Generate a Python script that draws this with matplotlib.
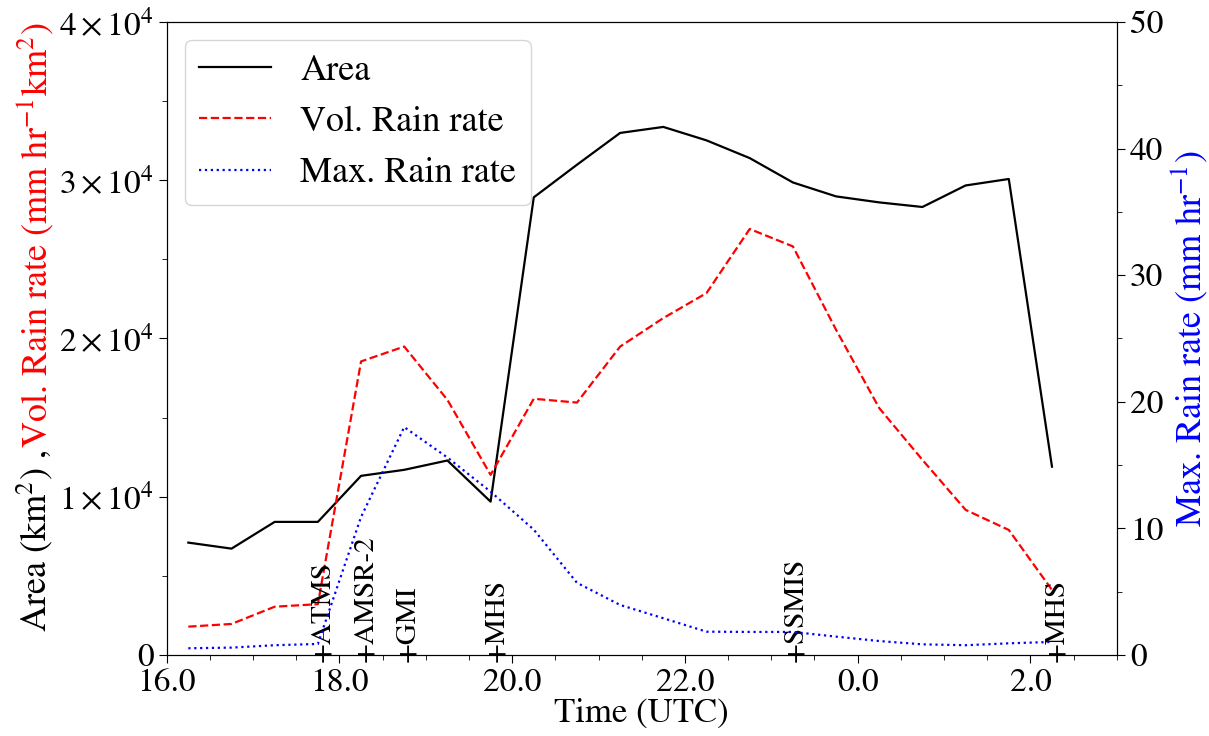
import matplotlib
matplotlib.use("Agg")
import matplotlib.pyplot as plt
from matplotlib.ticker import MultipleLocator, FuncFormatter

plt.rcParams["font.family"] = "STIXGeneral"
plt.rcParams["mathtext.fontset"] = "stix"
plt.rcParams["font.size"] = 24

# time of each sample (hours UTC, continuing past midnight)
time_h = [16.25, 16.75, 17.25, 17.75, 18.25, 18.75, 19.25, 19.75, 20.25, 20.75,
          21.25, 21.75, 22.25, 22.75, 23.25, 23.75, 24.25, 24.75, 25.25, 25.75, 26.25]
area = [7100, 6720, 8410, 8410, 11320, 11700, 12290, 9690, 28920, 30980,
        32990, 33370, 32520, 31400, 29860, 28980, 28600, 28310, 29670, 30080, 11900]
vol_rain = [1790, 1960, 3050, 3210, 18550, 19490, 16120, 11380, 16190, 15950,
            19490, 21290, 22870, 26920, 25820, 20550, 15600, 12330, 9170, 7900, 4110]
max_rain = [0.53, 0.58, 0.77, 0.87, 10.9, 18.0, 15.6, 12.9, 9.9, 5.7,
            3.95, 2.9, 1.84, 1.82, 1.82, 1.45, 1.1, 0.84, 0.77, 0.92, 1.03]

# satellite overpasses
sensors = ["ATMS", "AMSR-2", "GMI", "MHS", "SSMIS", "MHS"]
sensor_time = [17.80, 18.30, 18.79, 19.82, 23.28, 26.30]

fig = plt.figure(figsize=(12.09, 7.36), dpi=100)
ax = fig.add_axes([0.1379, 0.1101, 0.9237 - 0.1379, 0.9701 - 0.1101])
ax2 = ax.twinx()

l1, = ax.plot(time_h, area, "k-", lw=1.6, label="Area")
l2, = ax.plot(time_h, vol_rain, "r--", lw=1.6, label="Vol. Rain rate")
l3, = ax2.plot(time_h, max_rain, "b:", lw=1.6, label="Max. Rain rate")

ax.set_xlim(16, 27)
ax.set_ylim(0, 40000)
ax2.set_ylim(0, 50)

ax.xaxis.set_major_locator(MultipleLocator(2))
ax.xaxis.set_minor_locator(MultipleLocator(0.5))
ax.xaxis.set_major_formatter(FuncFormatter(lambda v, p: f"{v % 24:.1f}"))
ax.yaxis.set_major_locator(MultipleLocator(10000))
ax.yaxis.set_minor_locator(MultipleLocator(5000))


def sci(v, p):
    if v == 0:
        return "0"
    return r"$%d\times10^{4}$" % round(v / 1e4)


ax.yaxis.set_major_formatter(FuncFormatter(sci))
ax2.yaxis.set_major_locator(MultipleLocator(10))
ax2.yaxis.set_minor_locator(MultipleLocator(5))

for a in (ax, ax2):
    a.tick_params(which="major", length=6, labelsize=24)
    a.tick_params(which="minor", length=3.6)

ax.set_xlabel("Time (UTC)", fontsize=25, labelpad=0)
ax2.set_ylabel(r"Max. Rain rate (mm hr$^{-1}$)", color="b", fontsize=26)

for name, t in zip(sensors, sensor_time):
    ax.annotate("+" + name, xy=(t, 0), xytext=(0, -5), textcoords="offset points",
                rotation=90, ha="center", va="bottom", fontsize=21)

ax2.legend(handles=[l1, l2, l3], loc="upper left", fontsize=26)

# two-coloured left axis label
lab_black = fig.text(0.029, 0.141, r"Area (km$^2$) , ", rotation=90,
                     ha="center", va="bottom", fontsize=26, color="k")
fig.canvas.draw()
bb = lab_black.get_window_extent()
top = fig.transFigure.inverted().transform((0, bb.y1))[1]
fig.text(0.029, top, r"Vol. Rain rate (mm hr$^{-1}$km$^2$)", rotation=90,
         ha="center", va="bottom", fontsize=26, color="r")

fig.savefig("out.png", dpi=100)
